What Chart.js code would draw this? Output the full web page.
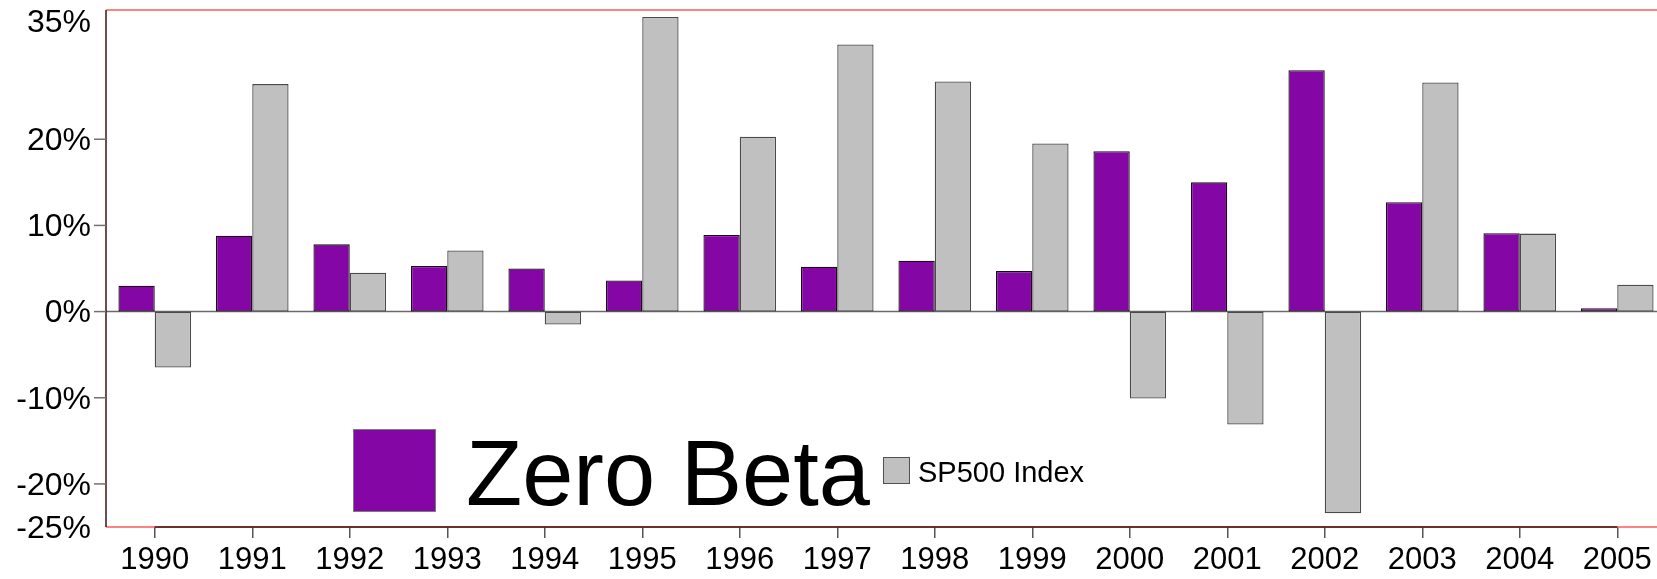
<!DOCTYPE html>
<html>
<head>
<meta charset="utf-8">
<style>
  html, body { margin: 0; padding: 0; overflow: hidden; background: #fff; }
  #wrap { position: relative; width: 1666px; height: 579px; }
</style>
<script src="https://cdn.jsdelivr.net/npm/chart.js@4/dist/chart.umd.min.js"></script>
</head>
<body>
<div id="wrap"><canvas id="chart"></canvas></div>
<script>
const years = ['1990', '1991', '1992', '1993', '1994', '1995', '1996', '1997',
               '1998', '1999', '2000', '2001', '2002', '2003', '2004', '2005'];
const zeroBeta = [3.0, 8.8, 7.8, 5.3, 5.0, 3.6, 8.9, 5.2, 5.9, 4.7, 18.6, 15.0, 28.0, 12.7, 9.1, 0.4];
const sp500 = [-6.5, 26.4, 4.5, 7.1, -1.5, 34.2, 20.3, 31.0, 26.7, 19.5, -10.1, -13.1, -23.4, 26.6, 9.05, 3.1];
const yTicks = [-25, -20, -10, 0, 10, 20, 35];
const seriesNames = ['Zero Beta', 'SP500 Index'];

const FONT = '"Liberation Sans", Arial, sans-serif';
const PURPLE = '#8406a4';
const GREY = '#c0c0c0';

function line(ctx, x1, y1, x2, y2) {
    ctx.beginPath();
    ctx.moveTo(x1, y1);
    ctx.lineTo(x2, y2);
    ctx.stroke();
}

// zero line, plot frame, y axis labels and the legend
const framePlugin = {
    id: 'frame',
    beforeDatasetsDraw(chart) {
        const { ctx, chartArea: a, scales: { y } } = chart;
        const y0 = y.getPixelForValue(0);
        ctx.save();
        ctx.strokeStyle = '#6a6a6a';
        ctx.lineWidth = 1.5;
        line(ctx, a.left, y0, a.right, y0);
        ctx.restore();
    },
    afterDraw(chart) {
        const { ctx, chartArea: a, scales: { x, y } } = chart;
        ctx.save();

        // red box around the plot
        ctx.strokeStyle = '#ff5a5a';
        ctx.lineWidth = 1.5;
        line(ctx, a.left, a.top, a.right, a.top);
        line(ctx, a.left, a.bottom, a.right, a.bottom);

        // dark axis lines
        ctx.strokeStyle = '#3c1212';
        line(ctx, a.left, a.top, a.left, a.bottom);
        const xFirst = x.getPixelForValue(0);
        const xLast = x.getPixelForValue(years.length - 1);
        line(ctx, xFirst, a.bottom, xLast, a.bottom);

        // y ticks + labels
        ctx.font = '32px ' + FONT;
        ctx.fillStyle = '#000';
        ctx.textAlign = 'right';
        ctx.textBaseline = 'middle';
        ctx.strokeStyle = '#707070';
        ctx.lineWidth = 1.5;
        yTicks.forEach(v => {
            const py = y.getPixelForValue(v);
            if (v !== yTicks[0] && v !== yTicks[yTicks.length - 1]) {
                line(ctx, a.left - 12, py, a.left, py);
            }
            const ly = Math.max(py + 2, 23);
            ctx.fillText(v + '%', a.left - 15, ly);
        });

        // legend
        const bx = a.left + 247;
        const by = a.bottom - 98;
        ctx.fillStyle = PURPLE;
        ctx.fillRect(bx, by, 83, 83);
        ctx.strokeStyle = '#7a7a7a';
        ctx.lineWidth = 1;
        ctx.strokeRect(bx + 0.5, by + 0.5, 82, 82);

        ctx.fillStyle = '#000';
        ctx.textAlign = 'left';
        ctx.textBaseline = 'alphabetic';
        ctx.font = '92px ' + FONT;
        ctx.fillText(seriesNames[0], bx + 113, by + 76);

        const sx = a.left + 777;
        const sy = a.bottom - 70;
        ctx.fillStyle = GREY;
        ctx.fillRect(sx, sy, 27, 27);
        ctx.strokeStyle = '#505050';
        ctx.strokeRect(sx + 0.5, sy + 0.5, 26, 26);
        ctx.fillStyle = '#000';
        ctx.font = '29px ' + FONT;
        ctx.fillText(seriesNames[1], sx + 35, sy + 25);

        ctx.restore();
    }
};

new Chart(document.getElementById('chart'), {
    type: 'bar',
    data: {
        labels: years,
        datasets: [
            {
                label: seriesNames[0],
                data: zeroBeta,
                backgroundColor: PURPLE,
                borderColor: '#1a0a1a',
                borderWidth: 1.3,
                borderSkipped: false
            },
            {
                label: seriesNames[1],
                data: sp500,
                backgroundColor: GREY,
                borderColor: '#4a4a4a',
                borderWidth: 1.3,
                borderSkipped: false
            }
        ]
    },
    options: {
        responsive: true,
        maintainAspectRatio: false,
        animation: false,
        datasets: {
            bar: {
                categoryPercentage: 0.745,
                barPercentage: 1.0
            }
        },
        layout: {
            padding: { top: 10, right: 0, left: 0, bottom: 0 }
        },
        scales: {
            x: {
                border: { display: false },
                grid: {
                    drawOnChartArea: false,
                    offset: false,
                    tickLength: 11,
                    color: '#555',
                    lineWidth: 1.5
                },
                ticks: {
                    color: '#000',
                    padding: 4,
                    maxRotation: 0,
                    autoSkip: false,
                    font: { family: FONT, size: 31 }
                },
                afterFit(scale) { scale.height = 52; }
            },
            y: {
                min: -25,
                max: 35,
                border: { display: false },
                grid: { display: false },
                ticks: { display: false },
                afterBuildTicks(scale) {
                    scale.ticks = yTicks.map(v => ({ value: v }));
                },
                afterFit(scale) { scale.width = 106; }
            }
        },
        plugins: {
            legend: { display: false },
            tooltip: { enabled: false }
        }
    },
    plugins: [framePlugin]
});
</script>
</body>
</html>
